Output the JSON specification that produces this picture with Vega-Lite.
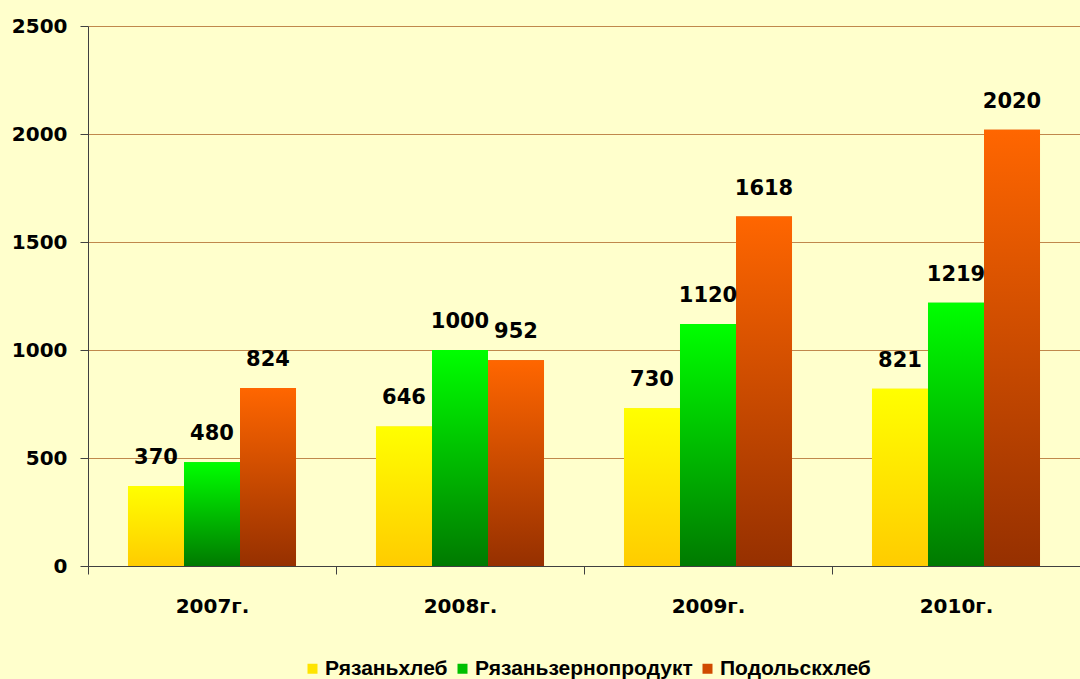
{
  "$schema": "https://vega.github.io/schema/vega-lite/v6.json",
  "autosize": {"type": "none"},
  "padding": {"left": 88, "top": 26, "right": 0, "bottom": 113},
  "width": 992,
  "height": 540,
  "background": "#FFFFCC",
  "config": {
    "view": {"stroke": null},
    "font": "DejaVu Sans"
  },
  "data": {
    "values": [
      {"year": "2007г.", "company": "Рязаньхлеб", "value": 370},
      {"year": "2007г.", "company": "Рязаньзернопродукт", "value": 480},
      {"year": "2007г.", "company": "Подольскхлеб", "value": 824},
      {"year": "2008г.", "company": "Рязаньхлеб", "value": 646},
      {"year": "2008г.", "company": "Рязаньзернопродукт", "value": 1000},
      {"year": "2008г.", "company": "Подольскхлеб", "value": 952},
      {"year": "2009г.", "company": "Рязаньхлеб", "value": 730},
      {"year": "2009г.", "company": "Рязаньзернопродукт", "value": 1120},
      {"year": "2009г.", "company": "Подольскхлеб", "value": 1618},
      {"year": "2010г.", "company": "Рязаньхлеб", "value": 821},
      {"year": "2010г.", "company": "Рязаньзернопродукт", "value": 1219},
      {"year": "2010г.", "company": "Подольскхлеб", "value": 2020}
    ]
  },
  "encoding": {
    "x": {
      "field": "year", "type": "nominal", "sort": null,
      "scale": {"paddingInner": 0, "paddingOuter": 0},
      "axis": {
        "title": null, "labelAngle": 0, "labelFont": "DejaVu Sans", "labelFontWeight": "bold",
        "labelFontSize": 20, "labelColor": "#000000", "labelPadding": 22,
        "tickSize": 8, "tickBand": "extent", "domainColor": "#404040", "tickColor": "#404040",
        "grid": false
      }
    },
    "xOffset": {"field": "company", "type": "nominal", "sort": ["Рязаньхлеб", "Рязаньзернопродукт", "Подольскхлеб"], "scale": {"domain": ["Рязаньхлеб", "Рязаньзернопродукт", "Подольскхлеб"], "paddingInner": 0, "paddingOuter": 0.714}},
    "y": {
      "field": "value", "type": "quantitative",
      "scale": {"domain": [0, 2500], "nice": false},
      "axis": {
        "title": null, "values": [0, 500, 1000, 1500, 2000, 2500], "format": "d",
        "labelFont": "DejaVu Sans", "labelFontWeight": "bold", "labelFontSize": 20,
        "labelColor": "#000000", "labelPadding": 13, "tickSize": 8,
        "tickColor": "#404040", "domainColor": "#404040",
        "gridColor": "#C0884C", "gridOpacity": 1, "gridWidth": 1.2
      }
    }
  },
  "layer": [
    {
      "mark": {"type": "bar"},
      "encoding": {
        "color": {
          "field": "company", "type": "nominal",
          "sort": ["Рязаньхлеб", "Рязаньзернопродукт", "Подольскхлеб"],
          "scale": {
            "domain": ["Рязаньхлеб", "Рязаньзернопродукт", "Подольскхлеб"],
            "range": ["#FFE400", "#00C000", "#D04A00"]
          },
          "legend": {
            "title": null, "orient": "none", "direction": "horizontal", "columns": 3,
            "legendX": 214, "legendY": 632,
            "symbolType": "square", "symbolSize": 100, "symbolStrokeWidth": 0,
            "labelFont": "Liberation Sans", "labelFontWeight": "bold", "labelFontSize": 21,
            "labelColor": "#000000", "columnPadding": 4, "labelOffset": 2, "labelLimit": 0,
            "symbolOpacity": 1,
            "encode": {
              "symbols": {
                "update": {
                  "fill": {"signal": "datum.value == 'Рязаньхлеб' ? {gradient: 'linear', x1: 0, y1: 0, x2: 0, y2: 1, stops: [{offset: 0, color: '#FFFF00'}, {offset: 1, color: '#FFCC00'}]} : datum.value == 'Рязаньзернопродукт' ? {gradient: 'linear', x1: 0, y1: 0, x2: 0, y2: 1, stops: [{offset: 0, color: '#00FF00'}, {offset: 1, color: '#007A00'}]} : {gradient: 'linear', x1: 0, y1: 0, x2: 0, y2: 1, stops: [{offset: 0, color: '#FF6600'}, {offset: 1, color: '#963000'}]}"}
                }
              }
            }
          }
        }
      }
    },
    {
      "transform": [{"filter": "datum.company == 'Рязаньхлеб'"}],
      "mark": {"type": "bar", "color": {"gradient": "linear", "x1": 0, "y1": 0, "x2": 0, "y2": 1, "stops": [{"offset": 0, "color": "#FFFF00"}, {"offset": 1, "color": "#FFCC00"}]}}
    },
    {
      "transform": [{"filter": "datum.company == 'Рязаньзернопродукт'"}],
      "mark": {"type": "bar", "color": {"gradient": "linear", "x1": 0, "y1": 0, "x2": 0, "y2": 1, "stops": [{"offset": 0, "color": "#00FF00"}, {"offset": 1, "color": "#007A00"}]}}
    },
    {
      "transform": [{"filter": "datum.company == 'Подольскхлеб'"}],
      "mark": {"type": "bar", "color": {"gradient": "linear", "x1": 0, "y1": 0, "x2": 0, "y2": 1, "stops": [{"offset": 0, "color": "#FF6600"}, {"offset": 1, "color": "#963000"}]}}
    },
    {
      "mark": {"type": "text", "baseline": "middle", "dy": -28, "font": "DejaVu Sans", "fontWeight": "bold", "fontSize": 21, "color": "#000000"},
      "encoding": {
        "text": {"field": "value", "type": "quantitative"}
      }
    }
  ]
}
